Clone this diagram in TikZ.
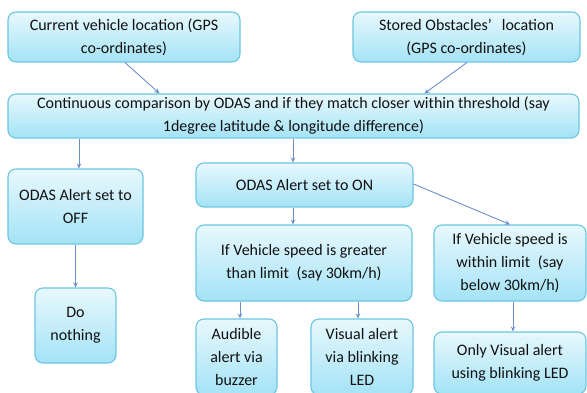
\documentclass[tikz,border=0pt]{standalone}
\usepackage{fontspec}
\setmainfont{Carlito}
\usetikzlibrary{arrows.meta}
\definecolor{boxtop}{HTML}{E8F8FD}
\definecolor{boxbot}{HTML}{A3E3F6}
\definecolor{boxline}{HTML}{6CC6E2}
\definecolor{arrline}{HTML}{6F8FC8}
\definecolor{txt}{HTML}{111111}
\tikzset{
  flowbox/.style={draw=boxline, line width=1.1pt, rounded corners=8pt,
    top color=boxtop, bottom color=boxbot, align=center, inner sep=0pt,
    text=txt, font=\fontsize{16}{23}\selectfont},
  arr/.style={draw=arrline, line width=0.9pt, -{Stealth[length=5pt,width=4.5pt]}}
}
\begin{document}
\begin{tikzpicture}[x=1pt,y=-1pt]
\useasboundingbox (0,0) rectangle (587,393);
\clip (0,0) rectangle (587,393);
\fill[white] (0,0) rectangle (587,393);

% source data
\node[flowbox, minimum width=232pt, minimum height=50pt] (cur) at (124,37)
  {Current vehicle location (GPS\\co-ordinates)};
\node[flowbox, minimum width=227pt, minimum height=50pt] (obs) at (466.5,37)
  {Stored Obstacles’\hspace{10pt}location\\(GPS co-ordinates)};

% comparison
\node[flowbox, minimum width=571pt, minimum height=44pt] (cmp) at (293.5,116)
  {Continuous comparison by ODAS and if they match closer within threshold (say\\1degree latitude \& longitude difference)};

% alert off branch
\node[flowbox, minimum width=135pt, minimum height=75pt] (off) at (75.5,206.5)
  {ODAS Alert set to\\OFF};
\node[flowbox, minimum width=81pt, minimum height=75pt] (none) at (75.5,325.5)
  {Do\\nothing};

% alert on branch
\node[flowbox, minimum width=217pt, minimum height=44pt] (on) at (304.5,185)
  {ODAS Alert set to ON};
\node[flowbox, minimum width=216pt, minimum height=76pt] (gt) at (304,263)
  {If Vehicle speed is greater\\than limit\hspace{4pt} (say 30km/h)};
\node[flowbox, minimum width=152pt, minimum height=76pt] (within) at (510,263)
  {If Vehicle speed is\\within limit\hspace{4pt} (say\\below 30km/h)};
\node[flowbox, minimum width=81pt, minimum height=76pt] (aud) at (236.5,357)
  {Audible\\alert via\\buzzer};
\node[flowbox, minimum width=102pt, minimum height=76pt] (vis) at (362,357)
  {Visual alert\\via blinking\\LED};
\node[flowbox, minimum width=152pt, minimum height=62pt] (only) at (510,363)
  {Only Visual alert\\using blinking LED};

% connectors
\draw[arr] ([xshift=1pt]cur.south) -- ([xshift=152pt]cmp.north west);
\draw[arr] ([xshift=0.5pt]obs.south) -- ([xshift=417pt]cmp.north west);
\draw[arr] ([xshift=3.5pt]off.north |- cmp.south) -- ([xshift=3.5pt]off.north);
\draw[arr] (off.south) -- (none.north);
\draw[arr] ([xshift=-11.5pt]on.north |- cmp.south) -- ([xshift=-11.5pt]on.north);
\draw[arr] ([xshift=-11.5pt]on.south) -- ([xshift=-11pt]gt.north);
\draw[arr] ([yshift=1pt]on.east) -- (within.north);
\draw[arr] ([xshift=3.5pt]aud.north |- gt.south) -- ([xshift=3.5pt]aud.north);
\draw[arr] ([xshift=-4pt]vis.north |- gt.south) -- ([xshift=-4pt]vis.north);
\draw[arr] ([xshift=3pt]only.north |- within.south) -- ([xshift=3pt]only.north);
\end{tikzpicture}
\end{document}
